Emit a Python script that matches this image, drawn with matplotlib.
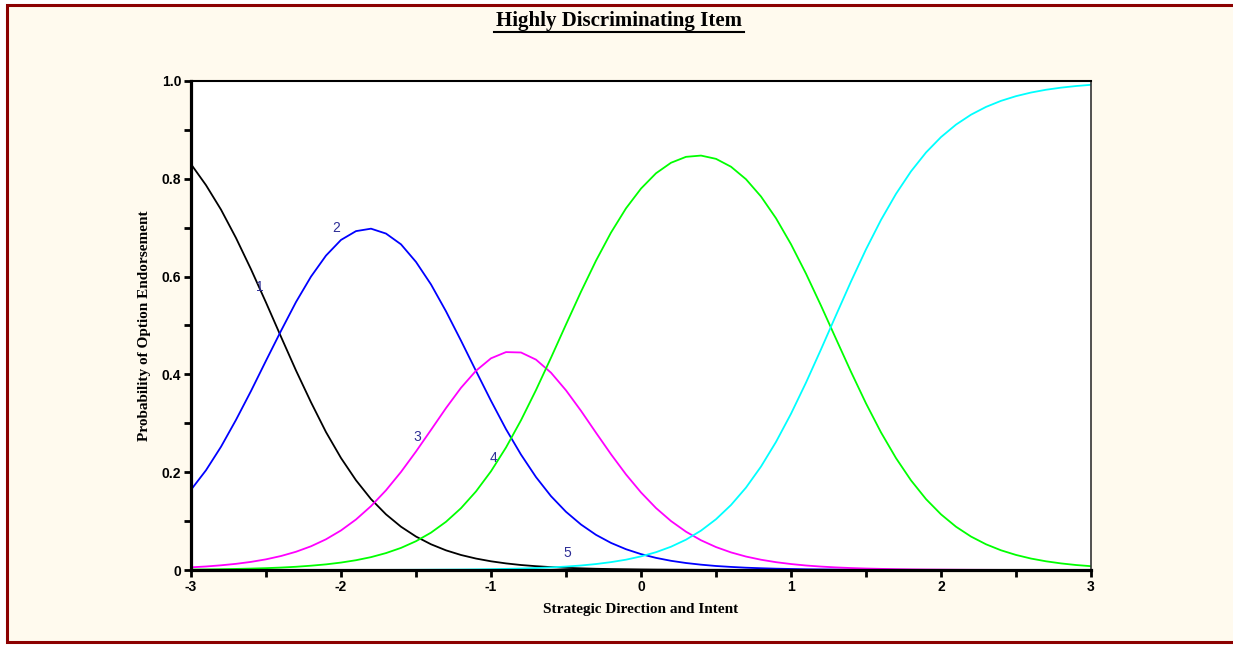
import numpy as np
import matplotlib.pyplot as plt
from matplotlib.patches import Rectangle
from matplotlib.lines import Line2D
from matplotlib.ticker import MultipleLocator

# theta grid, -3 .. 3 in steps of 0.1
theta = np.linspace(-3, 3, 61)

# values at each theta
opt1 = [0.830, 0.787, 0.737, 0.679, 0.615, 0.547, 0.477, 0.408, 0.343, 0.282,
        0.229, 0.1835, 0.145, 0.1138, 0.0885, 0.0684, 0.0526, 0.0402, 0.0307, 0.0234,
        0.0178, 0.0135, 0.0102, 0.0078, 0.0059, 0.0044, 0.0034, 0.0025, 0.0019, 0.0015,
        0.0011, 0.0008, 0.0006, 0.0005, 0.0003, 0.0003, 0.0002, 0.0001, 0.0001, 0.0001,
        0.0001, 0, 0, 0, 0, 0, 0, 0, 0, 0,
        0, 0, 0, 0, 0, 0, 0, 0, 0, 0, 0]
opt2 = [0.164, 0.204, 0.252, 0.307, 0.366, 0.428, 0.489, 0.548, 0.600, 0.643,
        0.675, 0.693, 0.698, 0.688, 0.666, 0.630, 0.584, 0.529, 0.469, 0.407,
        0.346, 0.288, 0.236, 0.190, 0.151, 0.119, 0.093, 0.0719, 0.0554, 0.0425,
        0.0325, 0.0248, 0.0188, 0.0143, 0.0109, 0.0082, 0.0063, 0.0047, 0.0036, 0.0027,
        0.0021, 0.0015, 0.0012, 0.0009, 0.0007, 0.0005, 0.0004, 0.0003, 0.0002, 0.0002,
        0.0001, 0.0001, 0.0001, 0, 0, 0, 0, 0, 0, 0, 0]
opt3 = [0.0055, 0.0072, 0.0096, 0.0126, 0.0166, 0.0218, 0.0286, 0.0373, 0.0485, 0.0628,
        0.0809, 0.1033, 0.1306, 0.1630, 0.2005, 0.2423, 0.2865, 0.3311, 0.3726, 0.4075,
        0.4329, 0.4456, 0.4448, 0.4302, 0.4035, 0.3674, 0.3255, 0.2807, 0.2367, 0.1954,
        0.1586, 0.1267, 0.1001, 0.0783, 0.0608, 0.0469, 0.036, 0.0275, 0.021, 0.016,
        0.0122, 0.0092, 0.007, 0.0053, 0.004, 0.003, 0.0023, 0.0017, 0.0013, 0.001,
        0.0008, 0.0006, 0.0004, 0.0003, 0.0002, 0.0002, 0.0001, 0.0001, 0.0001, 0.0001, 0]
opt4 = [0.0009, 0.0012, 0.0017, 0.0022, 0.0029, 0.0038, 0.005, 0.0066, 0.0088, 0.0115,
        0.0152, 0.020, 0.0263, 0.0346, 0.0452, 0.0589, 0.0764, 0.0986, 0.1264, 0.1607,
        0.2019, 0.2505, 0.3062, 0.368, 0.4341, 0.5021, 0.5691, 0.6326, 0.690, 0.7396,
        0.780, 0.8113, 0.8328, 0.8449, 0.8475, 0.8408, 0.8247, 0.7991, 0.7638, 0.7193,
        0.6662, 0.606, 0.5406, 0.4728, 0.4053, 0.3407, 0.2814, 0.2288, 0.1833, 0.145,
        0.1138, 0.0885, 0.0684, 0.0526, 0.0403, 0.0308, 0.0234, 0.0178, 0.0135, 0.0102, 0.0078]
opt5 = [0, 0, 0, 0, 0, 0, 0, 0.0001, 0.0001, 0.0001,
        0.0001, 0.0001, 0.0002, 0.0002, 0.0003, 0.0004, 0.0006, 0.0008, 0.0010, 0.0013,
        0.0017, 0.0023, 0.0030, 0.0040, 0.0053, 0.0070, 0.0092, 0.0122, 0.0161, 0.0211,
        0.0278, 0.0364, 0.0476, 0.0620, 0.0805, 0.1038, 0.1329, 0.1685, 0.2115, 0.2619,
        0.3195, 0.3832, 0.4512, 0.5210, 0.590, 0.6557, 0.7159, 0.7692, 0.8152, 0.8538,
        0.8853, 0.9108, 0.9311, 0.9470, 0.9594, 0.9690, 0.9764, 0.9821, 0.9864, 0.9897, 0.9922]

curve_labels = ["1", "2", "3", "4", "5"]
label_x = [-2.54, -2.03, -1.49, -0.98, -0.49]
label_y = [0.579, 0.699, 0.272, 0.229, 0.035]

fig = plt.figure(figsize=(12.33, 6.45), dpi=100, facecolor="white")

# cream panel with dark red frame
fig.add_artist(Rectangle((7 / 1233, 3 / 645), 1.05, 637 / 645, transform=fig.transFigure,
                         facecolor="#FFFAEE", edgecolor="#8B0000", linewidth=2.2, zorder=0))

ax = fig.add_axes([191 / 1233, 1 - 570 / 645, 900 / 1233, 489 / 645])
ax.set_facecolor("white")

colors = ["black", "#0000FF", "#FF00FF", "#00FF00", "#00FFFF"]
for vals, c in zip([opt1, opt2, opt3, opt4, opt5], colors):
    ax.plot(theta, vals, color=c, lw=1.3)

for lab, lx, ly in zip(curve_labels, label_x, label_y):
    ax.text(lx, ly, lab, color="#2E2E96", fontsize=10, family="Liberation Sans",
            ha="center", va="center")

ax.set_xlim(-3, 3)
ax.set_ylim(0, 1)
ax.xaxis.set_minor_locator(MultipleLocator(0.5))
ax.yaxis.set_minor_locator(MultipleLocator(0.1))
ax.set_xticks([-3, -2, -1, 0, 1, 2, 3])
ax.set_xticklabels(["-3", "-2", "-1", "0", "1", "2", "3"])
ax.set_yticks([0, 0.2, 0.4, 0.6, 0.8, 1.0])
ax.set_yticklabels(["0", "0.2", "0.4", "0.6", "0.8", "1.0"])
ax.tick_params(which="both", direction="out", width=2, length=5, pad=2)
for lbl in ax.get_xticklabels() + ax.get_yticklabels():
    lbl.set_family("Liberation Sans")
    lbl.set_fontweight("bold")
    lbl.set_fontsize(10)

ax.spines["left"].set_linewidth(2.3)
ax.spines["bottom"].set_linewidth(2.3)
ax.spines["top"].set_linewidth(1.5)
ax.spines["right"].set_linewidth(1.2)
ax.spines["right"].set_color("#333333")

ax.set_xlabel("Strategic Direction and Intent", family="Liberation Serif",
              fontweight="bold", fontsize=11, labelpad=7)
ax.set_ylabel("Probability of Option Endorsement", family="Liberation Serif",
              fontweight="bold", fontsize=11, labelpad=8)

fig.text(619 / 1233, 1 - 21 / 645, "Highly Discriminating Item", family="Liberation Serif",
         fontweight="bold", fontsize=15, ha="center", va="center")
fig.add_artist(Line2D([494 / 1233, 744 / 1233], [1 - 32 / 645, 1 - 32 / 645],
                      transform=fig.transFigure, color="black", lw=1.5))

fig.savefig("out.png", dpi=100, facecolor="white")
